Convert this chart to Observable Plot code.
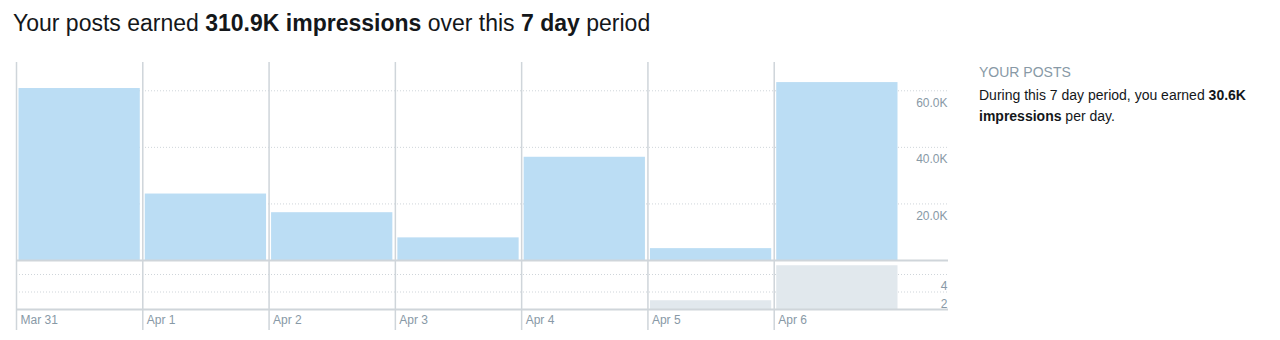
<!DOCTYPE html>
<html>
<head>
<meta charset="utf-8">
<script src="https://cdn.jsdelivr.net/npm/d3@7"></script>
<script src="https://cdn.jsdelivr.net/npm/@observablehq/plot@0.6"></script>
<style>
  html, body { margin: 0; padding: 0; background: #fff; width: 1280px; height: 340px; overflow: hidden; }
  body { font-family: "Liberation Sans", Arial, sans-serif; position: relative; }
  #title { position: absolute; left: 13px; top: 10px; font-size: 23px; color: #14171a; white-space: nowrap; }
  #title b { font-weight: bold; }
  #chartTop { position: absolute; left: 0; top: 52px; }
  #chartBottom { position: absolute; left: 0; top: 262px; }
  #side { position: absolute; left: 979px; top: 63px; font-size: 14px; color: #14171a; line-height: 21px; width: 280px; }
  #side .hd { color: #8899a6; font-size: 14px; line-height: 18px; margin-bottom: 4px; }
  svg { display: block; overflow: visible; }
</style>
</head>
<body>
<div id="title">Your posts earned <b>310.9K impressions</b> over this <b>7 day</b> period</div>
<div id="chartTop"></div>
<div id="chartBottom"></div>
<div id="side">
  <div class="hd">YOUR POSTS</div>
  <div>During this 7 day period, you earned <b>30.6K</b><br><b>impressions</b> per day.</div>
</div>
<script>
// ---- data ----
const days = ["Mar 31", "Apr 1", "Apr 2", "Apr 3", "Apr 4", "Apr 5", "Apr 6"];
const impressions = [60800, 23500, 16900, 8000, 36500, 4200, 62900];
const posts = [0, 0, 0, 0, 0, 1, 5];
const impressionTicks = [20000, 40000, 60000];
const postTicks = [2, 4];

const rows = days.map((d, i) => ({day: d, i, impressions: impressions[i], posts: posts[i]}));

const blue = "#bbddf4";
const grey = "#e1e8ed";
const lineCol = "#cfd5da";
const labelCol = "#8899a6";
const font = "'Liberation Sans', Arial, sans-serif";

const xScale = {type: "linear", domain: [0, days.length], range: [16, 900], axis: null};

const topChart = Plot.plot({
  width: 960,
  height: 210,
  marginLeft: 16,
  marginRight: 12,
  marginTop: 10,
  marginBottom: 0,
  style: {fontFamily: font, fontSize: "12px", background: "transparent"},
  x: xScale,
  y: {domain: [0, 70000], range: [208, 10], axis: null},
  marks: [
    Plot.ruleY(impressionTicks, {stroke: lineCol, strokeWidth: 1, strokeDasharray: "1,2"}),
    Plot.rectY(rows, {x1: "i", x2: d => d.i + 1, y1: 0, y2: "impressions", fill: blue, insetLeft: 2.5, insetRight: 2.5}),
    Plot.ruleX(rows, {x: "i", stroke: lineCol, strokeWidth: 1.5}),
    Plot.ruleY([0], {stroke: lineCol, strokeWidth: 2}),
    Plot.text(impressionTicks, {y: d => d, text: d => (d / 1000).toFixed(1) + "K", frameAnchor: "right", textAnchor: "end", dx: -1, dy: 12, fill: labelCol, fontSize: 12})
  ]
});
document.getElementById("chartTop").appendChild(topChart);

const bottomChart = Plot.plot({
  width: 960,
  height: 78,
  marginLeft: 16,
  marginRight: 12,
  marginTop: 0,
  marginBottom: 10,
  style: {fontFamily: font, fontSize: "12px", background: "transparent"},
  x: xScale,
  y: {domain: [0, 4], range: [47, 12], axis: null},
  marks: [
    Plot.ruleY(postTicks, {stroke: lineCol, strokeWidth: 1, strokeDasharray: "1,2"}),
    Plot.rectY(rows, {x1: "i", x2: d => d.i + 1, y1: 0, y2: "posts", fill: grey, insetLeft: 2.5, insetRight: 2.5}),
    Plot.ruleX(rows, {x: "i", stroke: lineCol, strokeWidth: 1.5}),
    Plot.ruleY([0], {stroke: lineCol, strokeWidth: 2}),
    Plot.text(postTicks, {y: d => d, text: d => String(d), frameAnchor: "right", textAnchor: "end", dx: -1, dy: 12, fill: labelCol, fontSize: 12}),
    Plot.text(rows, {x: "i", text: "day", frameAnchor: "bottom", textAnchor: "start", dx: 4, dy: -7, fill: labelCol, fontSize: 12})
  ]
});
document.getElementById("chartBottom").appendChild(bottomChart);
</script>
</body>
</html>
